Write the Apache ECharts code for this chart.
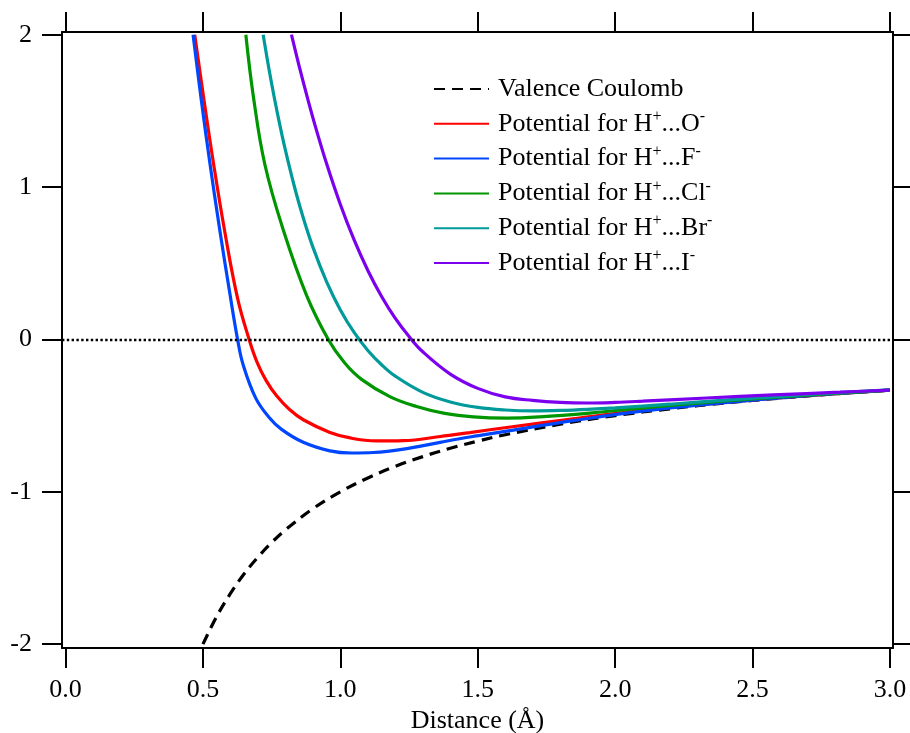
<!DOCTYPE html>
<html>
<head>
<meta charset="utf-8">
<script src="https://cdn.jsdelivr.net/npm/echarts@6/dist/echarts.min.js"></script>
<style>
    html, body { margin: 0; padding: 0; background: #fff; }
    #main { width: 910px; height: 733px; }
</style>
</head>
<body>
<div id="main"></div>
<script>
// tick positions
var xTicks = [0, 0.5, 1.0, 1.5, 2.0, 2.5, 3.0];
var yTicks = [-2, -1, 0, 1, 2];

// valence coulomb (dashed)
var coulombX = [0.5, 0.55, 0.6, 0.65, 0.7, 0.75, 0.8, 0.9, 1.0, 1.1, 1.2, 1.3, 1.4, 1.5, 1.6, 1.8, 2.0, 2.2, 2.4, 2.6, 2.8, 3.0];
var coulombY = [-2.0, -1.818, -1.667, -1.538, -1.429, -1.333, -1.25, -1.111, -1.0, -0.909, -0.833, -0.769, -0.714, -0.667, -0.625, -0.556, -0.5, -0.455, -0.417, -0.385, -0.357, -0.333];

// H+...O-
var oX = [0.470, 0.503, 0.537, 0.580, 0.626, 0.668, 0.697, 0.73, 0.768, 0.815, 0.865, 0.962, 1.04, 1.13, 1.23, 1.363, 1.471, 1.605, 1.847, 2.09, 2.4, 2.7, 3.0];
var oY = [2.0, 1.58, 1.17, 0.70, 0.27, 0.0, -0.150, -0.27, -0.37, -0.46, -0.527, -0.610, -0.648, -0.666, -0.664, -0.637, -0.611, -0.578, -0.521, -0.466, -0.413, -0.369, -0.333];

// H+...F-
var fX = [0.464, 0.494, 0.525, 0.561, 0.598, 0.626, 0.646, 0.692, 0.74, 0.786, 0.865, 0.962, 1.04, 1.12, 1.23, 1.363, 1.471, 1.605, 1.847, 2.09, 2.4, 2.7, 3.0];
var fY = [2.0, 1.57, 1.16, 0.72, 0.30, 0.0, -0.165, -0.385, -0.51, -0.59, -0.675, -0.731, -0.745, -0.742, -0.720, -0.675, -0.640, -0.602, -0.533, -0.472, -0.414, -0.369, -0.333];

// H+...Cl-
var clX = [0.656, 0.683, 0.725, 0.792, 0.877, 0.956, 1.016, 1.077, 1.18, 1.277, 1.38, 1.484, 1.605, 1.726, 1.908, 2.09, 2.4, 2.7, 3.0];
var clY = [2.0, 1.6, 1.15, 0.72, 0.29, 0.0, -0.155, -0.262, -0.375, -0.440, -0.485, -0.508, -0.516, -0.508, -0.483, -0.451, -0.403, -0.365, -0.333];

// H+...Br-
var brX = [0.719, 0.74, 0.76, 0.78, 0.80, 0.83, 0.86, 0.90, 0.95, 1.00, 1.05, 1.10, 1.15, 1.20, 1.30, 1.40, 1.50, 1.60, 1.70, 1.80, 1.90, 2.00, 2.20, 2.40, 2.60, 2.80, 3.00];
var brY = [2.0, 1.777, 1.583, 1.405, 1.242, 1.022, 0.828, 0.606, 0.378, 0.194, 0.046, -0.072, -0.166, -0.241, -0.347, -0.410, -0.446, -0.463, -0.469, -0.466, -0.459, -0.449, -0.425, -0.398, -0.373, -0.350, -0.330];

// H+...I-
var iX = [0.822, 0.85, 0.88, 0.91, 0.95, 1.00, 1.05, 1.10, 1.15, 1.20, 1.25, 1.30, 1.40, 1.50, 1.60, 1.70, 1.80, 1.90, 2.00, 2.10, 2.333, 2.575, 2.818, 3.0];
var iY = [2.0, 1.794, 1.587, 1.392, 1.153, 0.886, 0.653, 0.453, 0.282, 0.138, 0.019, -0.081, -0.227, -0.321, -0.377, -0.400, -0.413, -0.417, -0.413, -0.405, -0.384, -0.364, -0.346, -0.332];

var FONT = '"Liberation Serif", "Times New Roman", serif';

function pairs(xs, ys) {
    var out = [];
    for (var i = 0; i < xs.length; i++) out.push([xs[i], ys[i]]);
    return out;
}

function curve(name, xs, ys, color, dashed) {
    return {
        name: name,
        type: 'line',
        symbol: 'none',
        smooth: 0.4,
        xAxisIndex: 0,
        yAxisIndex: 0,
        data: pairs(xs, ys),
        lineStyle: { color: color, width: 3.2, type: dashed ? [11, 7] : 'solid' },
        itemStyle: { color: color }
    };
}

var axisLine = { show: true, onZero: false, lineStyle: { color: '#000', width: 2 } };
var axisTick = { show: true, inside: false, length: 20, lineStyle: { color: '#000', width: 2 } };

var chart = echarts.init(document.getElementById('main'));

var series = [
    curve('Valence Coulomb', coulombX, coulombY, '#000000', true),
    curve('Potential for H+...O-', oX, oY, '#ff0000'),
    curve('Potential for H+...F-', fX, fY, '#0046ff'),
    curve('Potential for H+...Cl-', clX, clY, '#009600'),
    curve('Potential for H+...Br-', brX, brY, '#009a9a'),
    curve('Potential for H+...I-', iX, iY, '#7b00ee')
];
// dotted zero line
series[0].markLine = {
    silent: true,
    symbol: 'none',
    label: { show: false },
    lineStyle: { color: '#000', width: 2.4, type: [2.4, 2.4] },
    data: [{ yAxis: 0 }]
};

chart.setOption({
    animation: false,
    backgroundColor: '#fff',
    grid: { left: 62, right: 17, top: 32, bottom: 85, containLabel: false, outerBoundsMode: 'none' },
    legend: {
        orient: 'vertical',
        left: 428,
        top: 71,
        itemWidth: 55,
        itemHeight: 14,
        itemGap: 6.8,
        selectedMode: false,
        itemStyle: { opacity: 0 },
        textStyle: {
            fontFamily: FONT,
            fontSize: 26,
            color: '#000',
            padding: [0, 0, 0, 4],
            rich: {
                n: { fontFamily: FONT, fontSize: 26, lineHeight: 30, color: '#000' },
                s: { fontFamily: FONT, fontSize: 16, lineHeight: 16, color: '#000', verticalAlign: 'top' }
            }
        },
        formatter: function (name) {
            var m = /^Potential for H\+\.\.\.(\w+)-$/.exec(name);
            if (!m) return '{n|' + name + '}';
            return '{n|Potential for H}{s|+}{n|...' + m[1] + '}{s|-}';
        },
        data: series.map(function (s) { return s.name; })
    },
    xAxis: [{
        type: 'value',
        min: -0.013,
        max: 3.011,
        position: 'bottom',
        name: 'Distance (\u00c5)',
        nameLocation: 'middle',
        nameGap: 58,
        nameTextStyle: { fontFamily: FONT, fontSize: 26, color: '#000' },
        axisLine: axisLine,
        axisTick: Object.assign({ customValues: xTicks }, axisTick),
        axisLabel: {
            customValues: xTicks,
            margin: 29,
            fontFamily: FONT,
            fontSize: 26,
            color: '#000',
            formatter: function (v) { return v.toFixed(1); }
        },
        splitLine: { show: false }
    }, {
        type: 'value',
        min: -0.013,
        max: 3.011,
        position: 'top',
        axisLine: axisLine,
        axisTick: Object.assign({ customValues: xTicks }, axisTick),
        axisLabel: { show: false },
        splitLine: { show: false }
    }],
    yAxis: [{
        type: 'value',
        min: -2.025,
        max: 2.018,
        position: 'left',
        axisLine: axisLine,
        axisTick: Object.assign({ customValues: yTicks }, axisTick),
        axisLabel: {
            customValues: yTicks,
            margin: 30,
            fontFamily: FONT,
            fontSize: 26,
            color: '#000',
            formatter: function (v) { return String(v); }
        },
        splitLine: { show: false }
    }, {
        type: 'value',
        min: -2.025,
        max: 2.018,
        position: 'right',
        axisLine: axisLine,
        axisTick: Object.assign({ customValues: yTicks }, axisTick),
        axisLabel: { show: false },
        splitLine: { show: false }
    }],
    series: series
});
</script>
</body>
</html>
